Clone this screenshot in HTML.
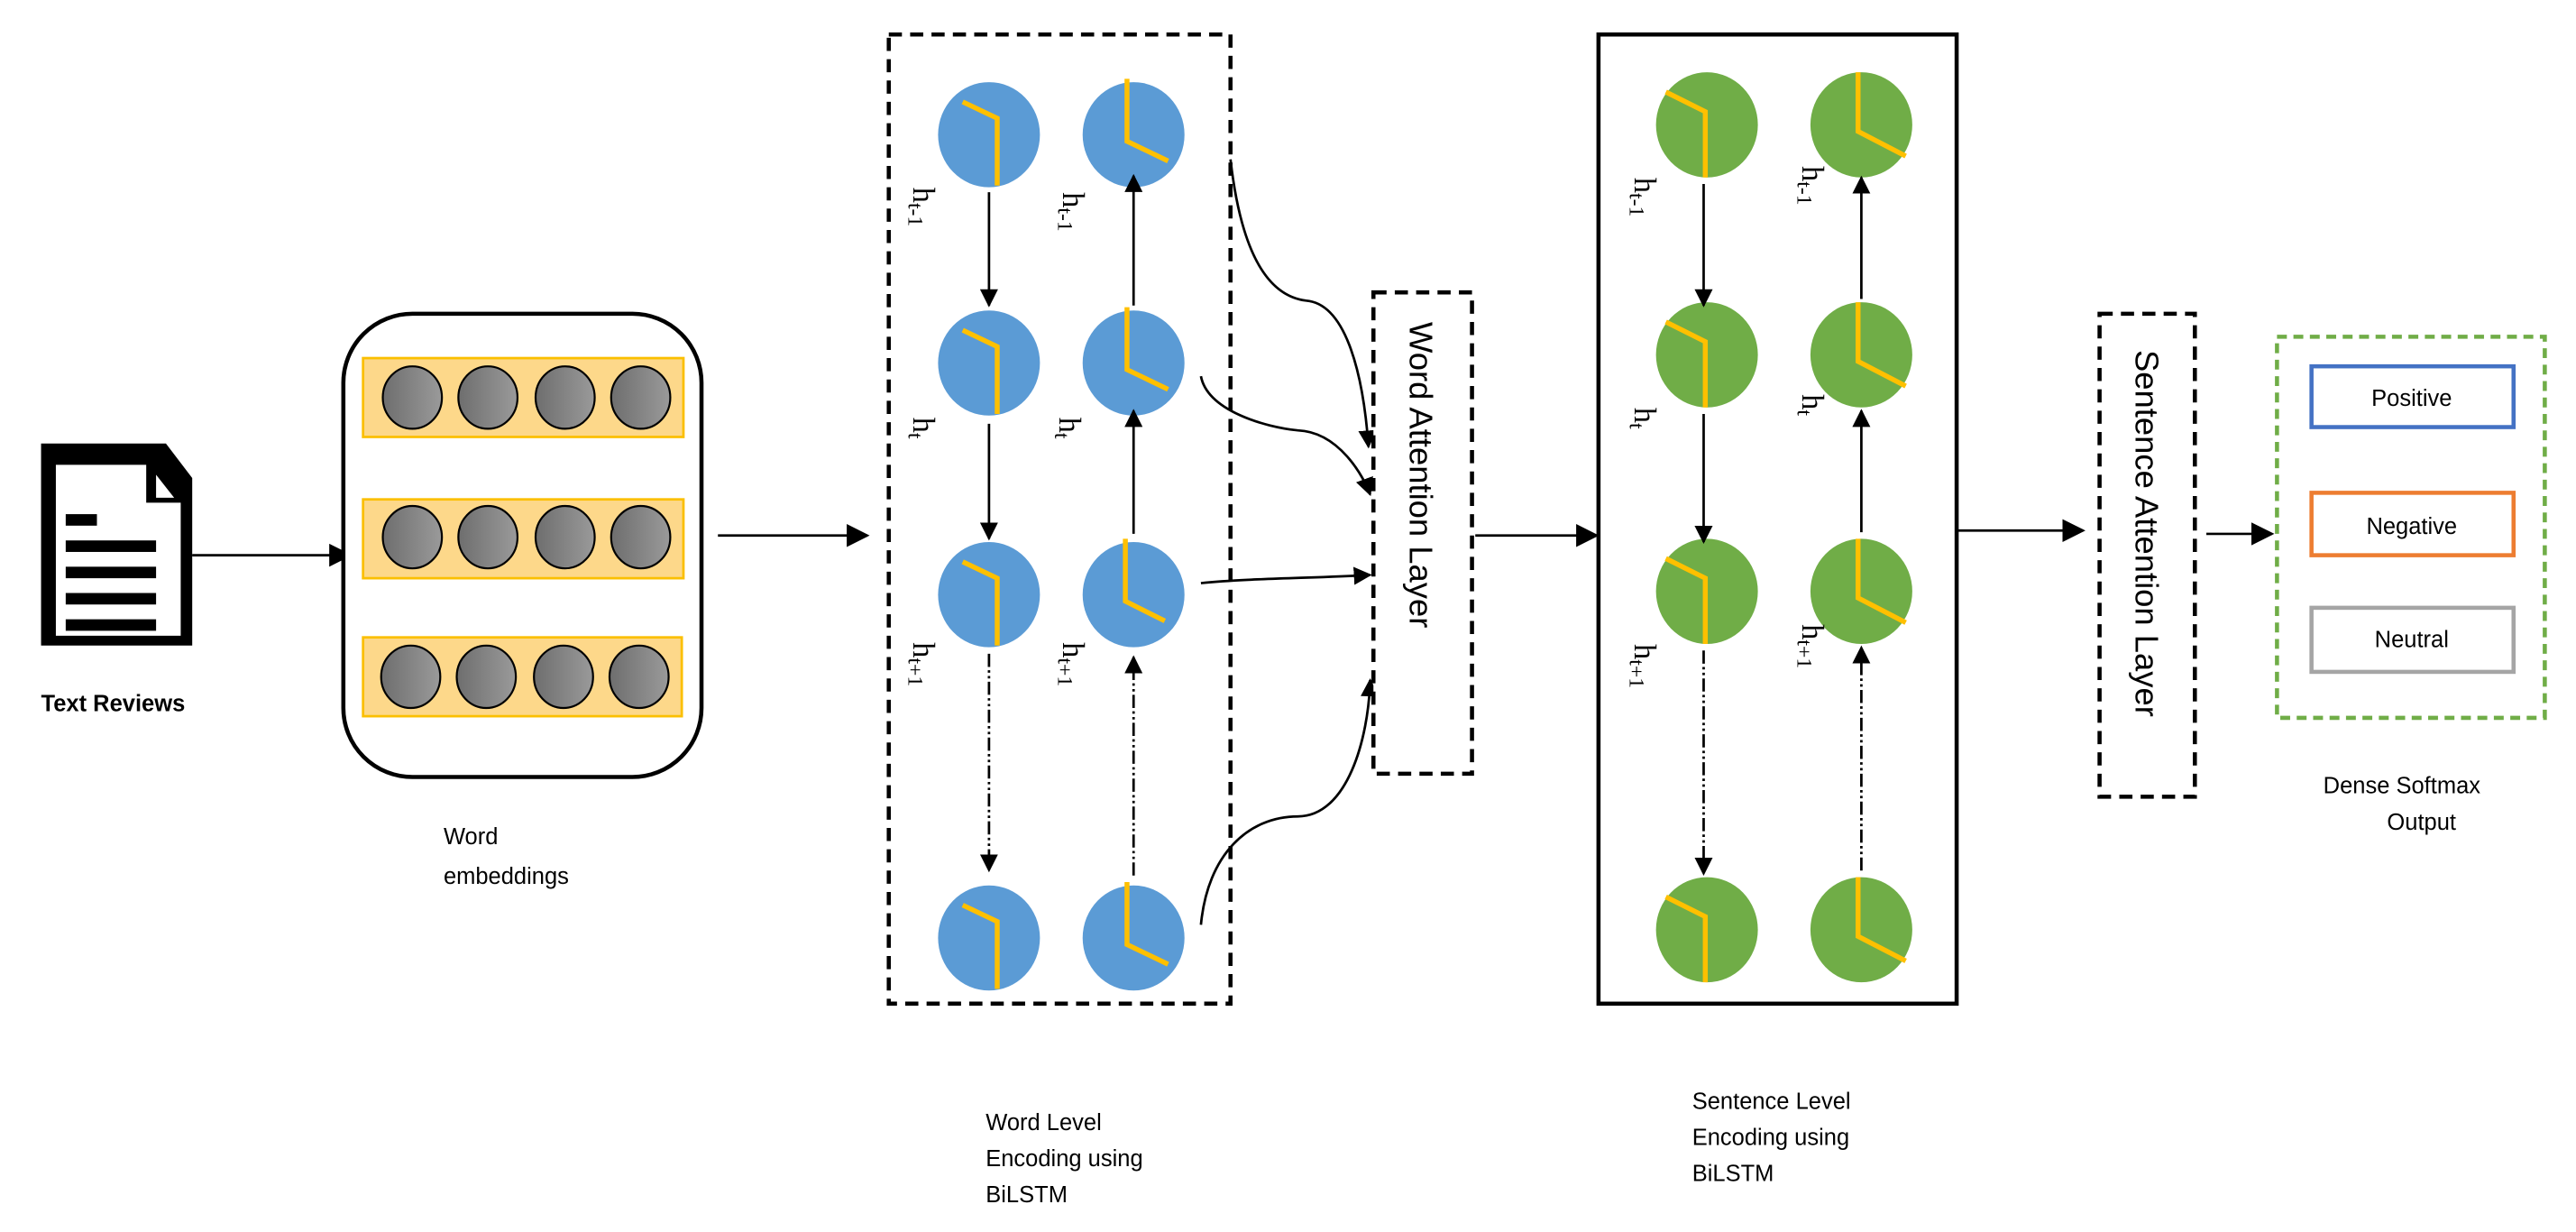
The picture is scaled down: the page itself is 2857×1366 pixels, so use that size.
<!DOCTYPE html>
<html><head><meta charset="utf-8"><style>html,body{margin:0;padding:0;background:#fff}svg{display:block}</style></head>
<body>
<svg width="2857" height="1366" viewBox="0 0 1568 750" preserveAspectRatio="none" xmlns="http://www.w3.org/2000/svg" font-family="'Liberation Sans', sans-serif">
<defs>
<marker id="a" viewBox="0 0 10 10" refX="9" refY="5" markerWidth="11" markerHeight="11" markerUnits="userSpaceOnUse" orient="auto"><path d="M0,0L10,5L0,10z" fill="#000"/></marker>
<marker id="b" viewBox="0 0 10 10" refX="9" refY="5" markerWidth="14" markerHeight="14" markerUnits="userSpaceOnUse" orient="auto"><path d="M0,0L10,5L0,10z" fill="#000"/></marker>
<linearGradient id="g" x1="0" x2="1"><stop offset="0" stop-color="#6e6e6e"/><stop offset="1" stop-color="#9a9a9a"/></linearGradient>
</defs>
<rect width="1568" height="750" fill="#fff"/>
<path d="M25,270 H101 L117,291 V393 H25 Z" fill="#000"/>
<path d="M34,283 H89 V306 H110 V387 H34 Z" fill="#fff"/>
<path d="M95,289 L106,303 H95 Z" fill="#fff"/>
<rect x="40" y="313" width="19" height="7" fill="#000"/>
<rect x="40" y="329" width="55" height="7" fill="#000"/>
<rect x="40" y="345" width="55" height="7" fill="#000"/>
<rect x="40" y="361" width="55" height="7" fill="#000"/>
<rect x="40" y="377" width="55" height="7" fill="#000"/>
<text x="25" y="433" font-size="14" font-weight="bold">Text Reviews</text>
<line x1="117" y1="338" x2="213" y2="338" stroke="#000" stroke-width="1.5" marker-end="url(#b)"/>
<rect x="209" y="191" width="218" height="282" rx="42" fill="#fff" stroke="#000" stroke-width="2.5"/>
<g stroke="#fbbf00" stroke-width="1.5" fill="#fdd88a">
<rect x="221" y="218" width="195" height="48"/>
<rect x="221" y="304" width="195" height="48"/>
<rect x="221" y="388" width="194" height="48"/>
</g>
<g fill="url(#g)" stroke="#000" stroke-width="1.2">
<ellipse cx="251" cy="242" rx="18" ry="19"/><ellipse cx="297" cy="242" rx="18" ry="19"/><ellipse cx="344" cy="242" rx="18" ry="19"/><ellipse cx="390" cy="242" rx="18" ry="19"/>
<ellipse cx="251" cy="327" rx="18" ry="19"/><ellipse cx="297" cy="327" rx="18" ry="19"/><ellipse cx="344" cy="327" rx="18" ry="19"/><ellipse cx="390" cy="327" rx="18" ry="19"/>
<ellipse cx="250" cy="412" rx="18" ry="19"/><ellipse cx="296" cy="412" rx="18" ry="19"/><ellipse cx="343" cy="412" rx="18" ry="19"/><ellipse cx="389" cy="412" rx="18" ry="19"/>
</g>
<text x="270" y="514" font-size="14">Word</text>
<text x="270" y="538" font-size="14">embeddings</text>
<line x1="437" y1="326" x2="528" y2="326" stroke="#000" stroke-width="1.5" marker-end="url(#b)"/>
<rect x="541" y="21" width="208" height="590" fill="none" stroke="#000" stroke-width="2.5" stroke-dasharray="8,5"/>
<g fill="#5b9bd5">
<ellipse cx="602" cy="82" rx="31" ry="32"/><ellipse cx="602" cy="221" rx="31" ry="32"/><ellipse cx="602" cy="362" rx="31" ry="32"/><ellipse cx="602" cy="571" rx="31" ry="32"/>
<ellipse cx="690" cy="82" rx="31" ry="32"/><ellipse cx="690" cy="221" rx="31" ry="32"/><ellipse cx="690" cy="362" rx="31" ry="32"/><ellipse cx="690" cy="571" rx="31" ry="32"/>
</g>
<g stroke="#ffc000" stroke-width="3" fill="none">
<path d="M586,62 L607,72 V113"/><path d="M586,201 L607,211 V252"/><path d="M586,342 L607,352 V393"/><path d="M586,551 L607,561 V602"/>
<path d="M686,48 V86 L711,98"/><path d="M686,187 V225 L711,237"/><path d="M685,328 V366 L709,378"/><path d="M686,537 V575 L711,587"/>
</g>
<g font-family="'Liberation Serif', serif" font-size="19">
<text transform="translate(556,114) rotate(90)">h<tspan font-size="13" dy="3">t-1</tspan></text>
<text transform="translate(556,254) rotate(90)">h<tspan font-size="13" dy="3">t</tspan></text>
<text transform="translate(556,391) rotate(90)">h<tspan font-size="13" dy="3">t+1</tspan></text>
<text transform="translate(647,117) rotate(90)">h<tspan font-size="13" dy="3">t-1</tspan></text>
<text transform="translate(645,254) rotate(90)">h<tspan font-size="13" dy="3">t</tspan></text>
<text transform="translate(647,391) rotate(90)">h<tspan font-size="13" dy="3">t+1</tspan></text>
</g>
<g stroke="#000" stroke-width="1.5" fill="none">
<line x1="602" y1="117" x2="602" y2="186" marker-end="url(#a)"/>
<line x1="602" y1="258" x2="602" y2="328" marker-end="url(#a)"/>
<line x1="602" y1="398" x2="602" y2="530" stroke-dasharray="8,2,1.5,2,1.5,2" marker-end="url(#a)"/>
<line x1="690" y1="186" x2="690" y2="107" marker-end="url(#a)"/>
<line x1="690" y1="325" x2="690" y2="250" marker-end="url(#a)"/>
<line x1="690" y1="533" x2="690" y2="400" stroke-dasharray="8,2,1.5,2,1.5,2" marker-end="url(#a)"/>
<path d="M749,97 C755,150 770,180 795,183 C820,185 830,230 833,272" marker-end="url(#a)"/>
<path d="M731,229 C735,250 770,260 790,262 C815,263 830,290 834,301" marker-end="url(#a)"/>
<path d="M731,355 C760,352 800,352 834,350" marker-end="url(#a)"/>
<path d="M731,563 C735,520 760,497 790,497 C820,497 833,450 834,414" marker-end="url(#a)"/>
</g>
<rect x="836" y="178" width="60" height="293" fill="#fff" stroke="#000" stroke-width="2.5" stroke-dasharray="8,5"/>
<text transform="translate(858,196) rotate(90)" font-size="20">Word Attention Layer</text>
<line x1="898" y1="326" x2="972" y2="326" stroke="#000" stroke-width="1.5" marker-end="url(#b)"/>
<rect x="973" y="21" width="218" height="590" fill="none" stroke="#000" stroke-width="2.5"/>
<g fill="#70ad47">
<ellipse cx="1039" cy="76" rx="31" ry="32"/><ellipse cx="1039" cy="216" rx="31" ry="32"/><ellipse cx="1039" cy="360" rx="31" ry="32"/><ellipse cx="1039" cy="566" rx="31" ry="32"/>
<ellipse cx="1133" cy="76" rx="31" ry="32"/><ellipse cx="1133" cy="216" rx="31" ry="32"/><ellipse cx="1133" cy="360" rx="31" ry="32"/><ellipse cx="1133" cy="566" rx="31" ry="32"/>
</g>
<g stroke="#ffc000" stroke-width="3" fill="none">
<path d="M1014,56 L1038,68 V108"/><path d="M1014,196 L1038,208 V248"/><path d="M1014,340 L1038,352 V392"/><path d="M1014,546 L1038,558 V598"/>
<path d="M1131,44 V80 L1160,95"/><path d="M1131,184 V220 L1160,235"/><path d="M1131,328 V364 L1160,379"/><path d="M1131,534 V570 L1160,585"/>
</g>
<g font-family="'Liberation Serif', serif" font-size="19">
<text transform="translate(995,108) rotate(90)">h<tspan font-size="13" dy="3">t-1</tspan></text>
<text transform="translate(995,248) rotate(90)">h<tspan font-size="13" dy="3">t</tspan></text>
<text transform="translate(995,392) rotate(90)">h<tspan font-size="13" dy="3">t+1</tspan></text>
<text transform="translate(1097,101) rotate(90)">h<tspan font-size="13" dy="3">t-1</tspan></text>
<text transform="translate(1097,240) rotate(90)">h<tspan font-size="13" dy="3">t</tspan></text>
<text transform="translate(1097,380) rotate(90)">h<tspan font-size="13" dy="3">t+1</tspan></text>
</g>
<g stroke="#000" stroke-width="1.5" fill="none">
<line x1="1037" y1="112" x2="1037" y2="186" marker-end="url(#a)"/>
<line x1="1037" y1="252" x2="1037" y2="330" marker-end="url(#a)"/>
<line x1="1037" y1="396" x2="1037" y2="532" stroke-dasharray="8,2,1.5,2,1.5,2" marker-end="url(#a)"/>
<line x1="1133" y1="182" x2="1133" y2="108" marker-end="url(#a)"/>
<line x1="1133" y1="324" x2="1133" y2="250" marker-end="url(#a)"/>
<line x1="1133" y1="530" x2="1133" y2="394" stroke-dasharray="8,2,1.5,2,1.5,2" marker-end="url(#a)"/>
</g>
<line x1="1192" y1="323" x2="1268" y2="323" stroke="#000" stroke-width="1.5" marker-end="url(#b)"/>
<rect x="1278" y="191" width="58" height="294" fill="#fff" stroke="#000" stroke-width="2.5" stroke-dasharray="8,5"/>
<text transform="translate(1300,213) rotate(90)" font-size="20">Sentence Attention Layer</text>
<line x1="1343" y1="325" x2="1383" y2="325" stroke="#000" stroke-width="1.5" marker-end="url(#b)"/>
<rect x="1386" y="205" width="163" height="232" fill="none" stroke="#70ad47" stroke-width="2.5" stroke-dasharray="6,4"/>
<rect x="1407" y="223" width="123" height="37" fill="#fff" stroke="#4472c4" stroke-width="2.5"/>
<rect x="1407" y="300" width="123" height="38" fill="#fff" stroke="#ed7d31" stroke-width="2.5"/>
<rect x="1407" y="370" width="123" height="39" fill="#fff" stroke="#a5a5a5" stroke-width="2.5"/>
<g font-size="14" text-anchor="middle">
<text x="1468" y="247">Positive</text>
<text x="1468" y="325">Negative</text>
<text x="1468" y="394">Neutral</text>
<text x="1462" y="483">Dense Softmax</text>
<text x="1474" y="505">Output</text>
</g>
<g font-size="14">
<text x="600" y="688">Word Level</text>
<text x="600" y="710">Encoding using</text>
<text x="600" y="732">BiLSTM</text>
<text x="1030" y="675">Sentence Level</text>
<text x="1030" y="697">Encoding using</text>
<text x="1030" y="719">BiLSTM</text>
</g>
</svg>
</body></html>
